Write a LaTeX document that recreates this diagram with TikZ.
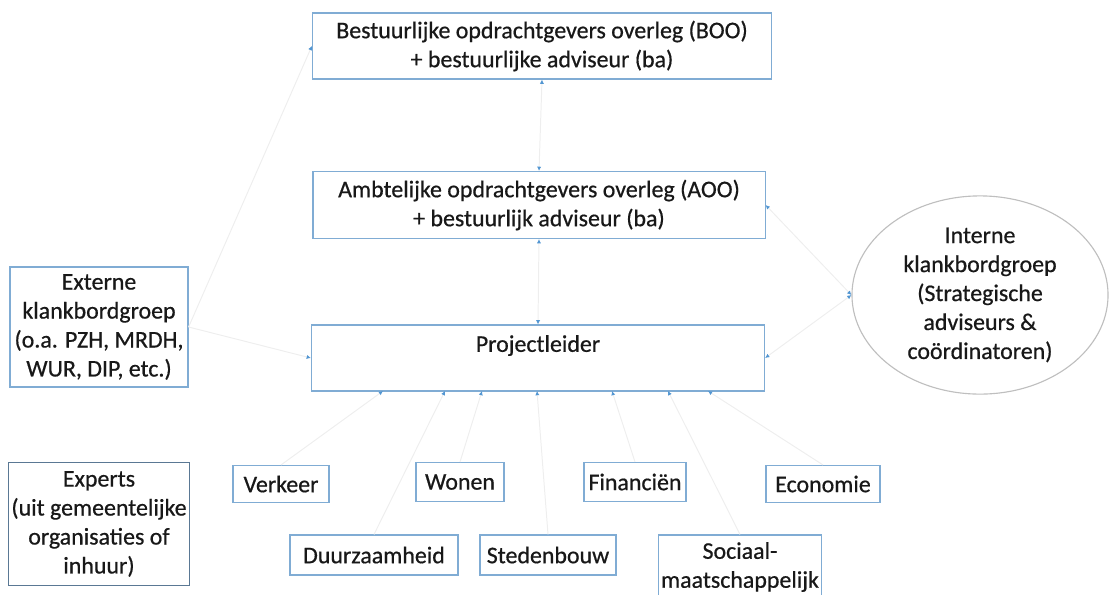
\documentclass[tikz,border=0pt]{standalone}
\usepackage{fontspec}
\setmainfont{Carlito}
\newfontfamily\orgfont{Carlito}[FakeBold=0.6]
\usetikzlibrary{arrows.meta,shapes.geometric}
\definecolor{boxblue}{RGB}{128,172,212}
\definecolor{linegray}{RGB}{238,238,238}
\definecolor{tipblue}{RGB}{82,150,210}
\definecolor{txtdark}{RGB}{24,24,24}
\tikzset{
  orgbox/.style={draw=boxblue, line width=0.8pt, fill=white, align=center,
    text=txtdark, font=\orgfont\fontsize{17}{20.6}\selectfont, inner sep=2pt},
  conn/.style={draw=linegray, line width=0.7pt, >={Latex[length=3pt,width=3pt,color=tipblue]}}
}
\begin{document}
\begin{tikzpicture}[x=0.025cm,y=-0.025cm]
\useasboundingbox (0,0) rectangle (1109,594);
% bestuur
\node[orgbox, minimum width=11.475cm, minimum height=1.65cm] (boo) at (542,46)
  {Bestuurlijke opdrachtgevers overleg (BOO)\\+ bestuurlijke adviseur (ba)};
\node[orgbox, minimum width=11.3cm, minimum height=1.675cm] (aoo) at (539,205)
  {Ambtelijke opdrachtgevers overleg (AOO)\\+ bestuurlijk adviseur (ba)};
\node[orgbox, minimum width=11.325cm, minimum height=1.65cm] (pl) at (538,358)
  {Projectleider\\ \mbox{}};
% klankbordgroepen
\node[orgbox, minimum width=4.45cm, minimum height=3cm] (ext) at (99,327)
  {Externe\\klankbordgroep\\(o.a. PZH, MRDH,\\WUR, DIP, etc.)};
\node[orgbox, ellipse, draw=black!25, minimum width=6.4cm, minimum height=4.5cm] (int) at (980,295)
  {Interne\\klankbordgroep\\(Strategische\\adviseurs \&\\coördinatoren)};
% experts
\node[orgbox, draw=black!30!boxblue, minimum width=4.45cm, minimum height=3.075cm] (exp) at (99,524)
  {Experts\\(uit gemeentelijke\\organisaties of\\inhuur)};
\node[orgbox, minimum width=2.4cm, minimum height=0.925cm] (verkeer) at (281,484) {Verkeer};
\node[orgbox, minimum width=2.2cm, minimum height=0.975cm] (wonen) at (460,482) {Wonen};
\node[orgbox, minimum width=2.55cm, minimum height=0.975cm] (fin) at (635,482) {Financiën};
\node[orgbox, minimum width=2.85cm, minimum height=0.925cm] (econ) at (823,484) {Economie};
\node[orgbox, minimum width=4.2cm, minimum height=1cm] (duurz) at (374,555) {Duurzaamheid};
\node[orgbox, minimum width=3.4cm, minimum height=1cm] (steden) at (548,555) {Stedenbouw};
\node[orgbox, minimum width=3.675cm, minimum height=1.6cm] (soc) at (740,567) {Sociaal-\\maatschappelijk};
% verbindingen
\draw[conn, <->] (boo.south) -- (aoo.north);
\draw[conn, <->] (aoo.south) -- (pl.north);
\draw[conn, ->] (ext.east) -- (boo.west);
\draw[conn, ->] (ext.east) -- (pl.west);
\draw[conn, <->] (int.west) -- (aoo.east);
\draw[conn, <->] (int.west) -- (pl.east);
\coordinate (pb1) at (383,391);
\coordinate (pb2) at (445,391);
\coordinate (pb3) at (482,391);
\coordinate (pb4) at (537,391);
\coordinate (pb5) at (612,391);
\coordinate (pb6) at (668,391);
\coordinate (pb7) at (708,391);
\foreach \p/\n in {pb1/verkeer,pb2/duurz,pb3/wonen,pb4/steden,pb5/fin,pb6/soc,pb7/econ}
  \draw[conn, <-] (\p) -- (\n.north);
\end{tikzpicture}
\end{document}
